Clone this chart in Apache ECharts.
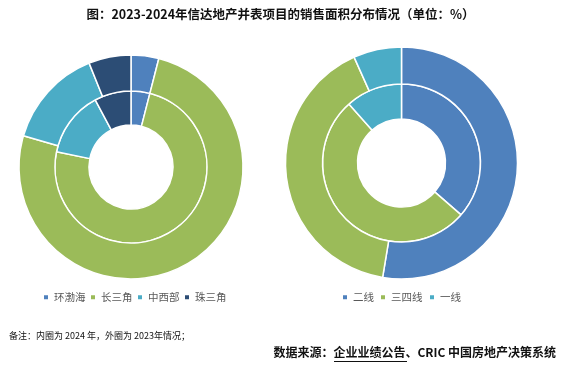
<!DOCTYPE html>
<html><head><meta charset="utf-8">
<script src="https://cdn.jsdelivr.net/npm/echarts@6/dist/echarts.min.js"></script>
<style>html,body{margin:0;padding:0;background:#fff}#c{width:561px;height:373px}</style>
</head><body><div id="c"></div>
<script>
const regionNames = ['环渤海', '长三角', '中西部', '珠三角'];
const region2024 = [4.0, 74.2, 14.0, 7.8];
const region2023 = [4.0, 75.5, 14.4, 6.1];
const cityNames = ['二线', '三四线', '一线'];
const city2024 = [36.4, 52.0, 11.6];
const city2023 = [52.6, 40.7, 6.7];
const regionColors = ['#4F81BD', '#9BBB59', '#4BACC6', '#2C4D75'];
const cityColors = ['#4F81BD', '#9BBB59', '#4BACC6'];

const font = '"Noto Sans CJK SC", "Noto Sans", sans-serif';
const chart = echarts.init(document.getElementById('c'), null, {renderer: 'canvas'});
function mk(names, vals, colors) {
  return names.map((n, i) => ({name: n, value: vals[i], itemStyle: {color: colors[i]}}));
}
const base = {
  type: 'pie', label: {show: false}, labelLine: {show: false},
  emphasis: {disabled: true}, silent: true, animation: false,
  itemStyle: {borderColor: '#fff', borderWidth: 1.5}, startAngle: 90, clockwise: true
};
const legendX = {'环渤海': 37, '长三角': 84, '中西部': 131, '珠三角': 178, '二线': 336, '三四线': 374, '一线': 423};
const legends = regionNames.concat(cityNames).map(n => ({
  data: [n], left: legendX[n], top: 287, icon: 'rect', itemWidth: 6, itemHeight: 6,
  textStyle: {fontFamily: font, fontSize: 10.5, color: '#595959'}
}));
chart.setOption({
  animation: false,
  color: regionColors,
  title: {
    text: '图：2023-2024年信达地产并表项目的销售面积分布情况（单位：%）',
    left: 'center', top: 3,
    textStyle: {fontFamily: font, fontSize: 12.5, fontWeight: 'bold', color: '#111'}
  },
  legend: legends,
  series: [
    Object.assign({}, base, {center: [131, 167], radius: [42, 76], data: mk(regionNames, region2024, regionColors)}),
    Object.assign({}, base, {center: [131, 167], radius: [76, 112], data: mk(regionNames, region2023, regionColors)}),
    Object.assign({}, base, {center: [401.5, 163], radius: [44, 79], data: mk(cityNames, city2024, cityColors)}),
    Object.assign({}, base, {center: [401.5, 163], radius: [79, 116], data: mk(cityNames, city2023, cityColors)})
  ],
  graphic: [
    {type: 'text', left: 9, top: 331, style: {text: '备注：内圈为 2024 年，外圈为 2023年情况；', fontFamily: font, fontSize: 9, fill: '#111'}},
    {type: 'text', right: 5, top: 346, style: {text: '数据来源：企业业绩公告、CRIC 中国房地产决策系统', fontFamily: font, fontSize: 12, fontWeight: 'bold', fill: '#111'}},
    {type: 'line', shape: {x1: 334, y1: 361.5, x2: 407, y2: 361.5}, style: {stroke: '#111', lineWidth: 1}}
  ]
});
</script></body></html>
